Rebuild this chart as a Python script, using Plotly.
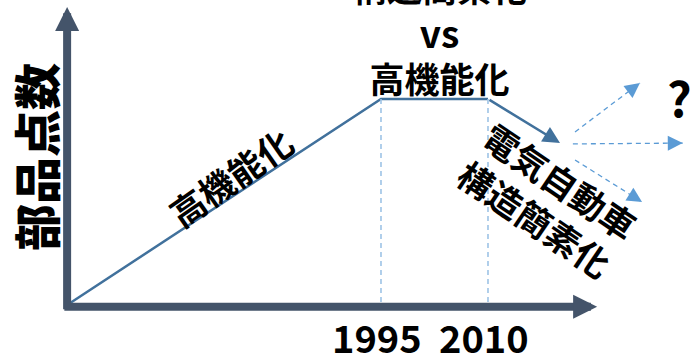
import plotly.graph_objects as go

# ---- conceptual data ----
years = [1951, 1995, 2010, 2020.1]          # origin, 1995, 2010, today
parts = [0, 100, 100, 78.6]                  # relative number of parts
tick_years = [1995, 2010]
tick_labels = ["1995", "2010"]
future_start_x = [2022.2, 2021.9, 2022.2]
future_start_y = [84.0, 78.2, 70.4]
future_end_x = [2031.3, 2037.3, 2031.6]
future_end_y = [107.8, 78.6, 50.0]
axis_x_end = 2025.3
axis_y_end = 144.7
axis_floor = -0.8

X_RANGE = [1941.59, 2038.6]
Y_RANGE = [-25.73, 148.06]

CJK = "Noto Sans CJK JP"
AXIS_COL = "#44546a"
LINE_COL = "#41719c"
GUIDE_COL = "#9dc3e6"
FUT_COL = "#5b9bd5"

fig = go.Figure()

# main trend line (up to 2010; last segment drawn as arrow)
fig.add_trace(go.Scatter(x=years[:-1], y=parts[:-1], mode="lines",
                         line=dict(color=LINE_COL, width=2.5), hoverinfo="skip"))

# vertical guides
for yr, val in zip(years[1:3], parts[1:3]):
    fig.add_trace(go.Scatter(x=[yr, yr], y=[val, axis_floor], mode="lines",
                             line=dict(color=GUIDE_COL, width=1.6, dash="5px,4px"),
                             hoverinfo="skip"))

# future dashed lines
for x0, y0, x1, y1 in zip(future_start_x, future_start_y, future_end_x, future_end_y):
    fig.add_trace(go.Scatter(x=[x0, x1], y=[y0, y1], mode="lines",
                             line=dict(color=FUT_COL, width=1.3, dash="5px,4px"),
                             hoverinfo="skip"))

ann = []
# axes as arrows
ann.append(dict(x=axis_x_end, y=axis_floor, ax=years[0] - 0.6, ay=axis_floor,
                xref="x", yref="y", axref="x", ayref="y", text="", showarrow=True,
                arrowhead=2, arrowsize=0.6, arrowwidth=8, arrowcolor=AXIS_COL))
ann.append(dict(x=years[0], y=axis_y_end, ax=years[0], ay=axis_floor - 2.0,
                xref="x", yref="y", axref="x", ayref="y", text="", showarrow=True,
                arrowhead=2, arrowsize=0.6, arrowwidth=8, arrowcolor=AXIS_COL))
# last segment of trend as arrow
ann.append(dict(x=years[-1], y=parts[-1], ax=years[-2], ay=parts[-2],
                xref="x", yref="y", axref="x", ayref="y", text="", showarrow=True,
                arrowhead=2, arrowsize=1.36, arrowwidth=2.5, arrowcolor=LINE_COL))
# future arrow heads
sx = 692 / (X_RANGE[1] - X_RANGE[0])
sy = 358 / (Y_RANGE[1] - Y_RANGE[0])
for x0, y0, x1, y1 in zip(future_start_x, future_start_y, future_end_x, future_end_y):
    dxp = (x1 - x0) * sx
    dyp = -(y1 - y0) * sy
    n = (dxp ** 2 + dyp ** 2) ** 0.5
    ann.append(dict(x=x1, y=y1, ax=-dxp / n * 12, ay=-dyp / n * 12,
                    xref="x", yref="y", text="", showarrow=True,
                    arrowhead=2, arrowsize=2.3, arrowwidth=1.3, arrowcolor=FUT_COL))

# texts
def txt(x, y, s, size, angle=0, weight="bold", family=CJK, xref="x", yref="y"):
    ann.append(dict(x=x, y=y, xref=xref, yref=yref, text=s, showarrow=False,
                    textangle=angle, xanchor="center", yanchor="middle",
                    font=dict(family=family, size=size, color="black", weight=weight)))

txt(1946.36, 71.8, "部品点数", 47, angle=-90, weight=900)
txt(1973.8, 62.5, "高機能化", 35, angle=-35)
txt(2018.4, 51.0, "電気自動車<br>構造簡素化", 35, angle=34)
txt(2003.27, 132.3,
    "構造簡素化<br><span style='font-size:37px'>vs</span><br>高機能化", 35)
txt(2036.78, 101.5, "?", 48)
for yr, lab in zip(tick_years, tick_labels):
    txt(yr - 0.5, -15.3, lab, 38)

fig.update_layout(
    width=692, height=358, margin=dict(l=0, r=0, t=0, b=0),
    paper_bgcolor="white", plot_bgcolor="white", showlegend=False,
    xaxis=dict(range=X_RANGE, visible=False, fixedrange=True),
    yaxis=dict(range=Y_RANGE, visible=False, fixedrange=True),
    annotations=ann,
)

fig.write_html("out.html")
